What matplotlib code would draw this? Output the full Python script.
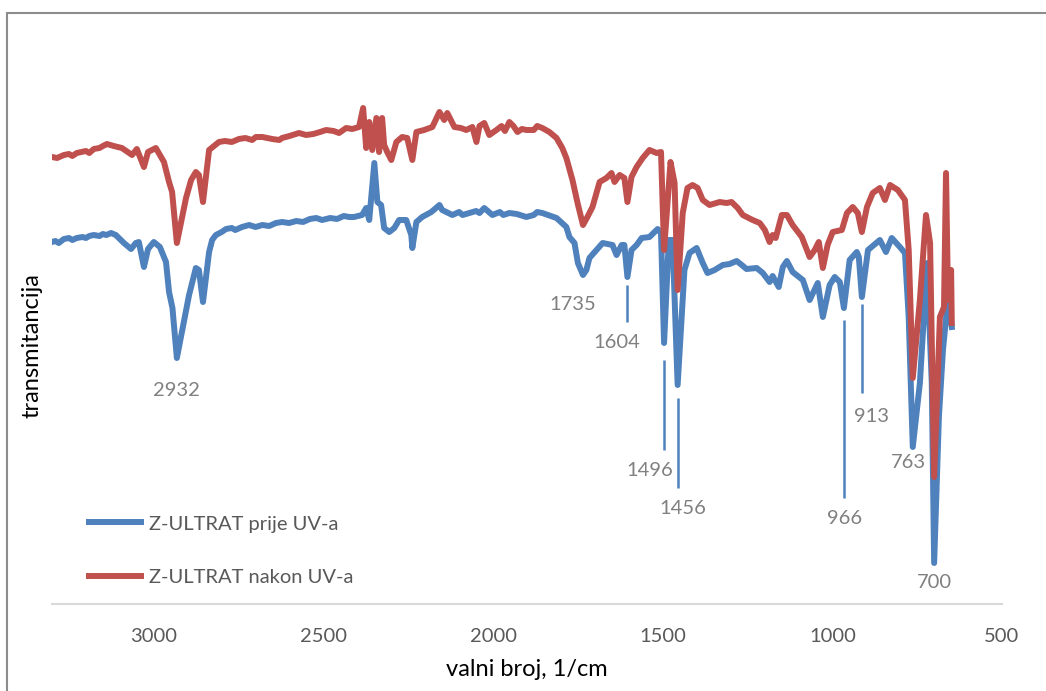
import matplotlib
matplotlib.use('Agg')
import matplotlib.pyplot as plt
from matplotlib.patches import Rectangle

plt.rcParams['font.family'] = ['Lato', 'DejaVu Sans']

# FTIR spektri: valni broj (1/cm) i transmitancija (rel. jedinice)
wn_prije = [3300, 3290, 3280, 3265, 3250, 3240, 3227, 3210, 3200, 3190, 3177, 3160, 3150, 3140,
            3126, 3112, 3088, 3067, 3053, 3044, 3029, 3017, 3000, 2982, 2964, 2955, 2945, 2932,
            2915, 2896, 2876, 2867, 2855, 2837, 2828, 2817, 2800, 2787, 2770, 2760, 2740, 2719,
            2700, 2680, 2660, 2640, 2622, 2601, 2580, 2560, 2540, 2521, 2504, 2480, 2460, 2440,
            2424, 2410, 2386, 2374, 2365, 2350, 2341, 2330, 2321, 2306, 2291, 2277, 2256, 2241,
            2238, 2226, 2209, 2182, 2158, 2150, 2120, 2100, 2090, 2070, 2050, 2040, 2026, 2002,
            1980, 1970, 1952, 1930, 1902, 1880, 1870, 1855, 1813, 1784, 1775, 1760, 1750, 1735,
            1725, 1716, 1695, 1677, 1648, 1636, 1621, 1613, 1604, 1592, 1577, 1562, 1539,
            1515, 1505, 1496, 1482, 1471, 1456, 1436, 1421, 1400, 1382, 1368, 1347, 1323,
            1303, 1282, 1267, 1253, 1223, 1205, 1185, 1176, 1158, 1146, 1134, 1117, 1087,
            1067, 1043, 1028, 1008, 993, 978, 966, 949, 928, 922, 913, 895, 860, 842, 825,
            801, 786, 775, 763, 742, 721, 707, 700, 686, 674, 659, 648]
t_prije = [362, 363, 361, 365, 366, 364, 366, 367, 366, 368, 369, 368, 370, 369,
           371, 369, 361, 355, 361, 362, 337, 355, 362, 357, 342, 312, 296, 246,
           276, 309, 336, 334, 302, 352, 364, 369, 372, 375, 376, 374, 377, 379,
           377, 379, 378, 381, 382, 381, 383, 382, 385, 386, 384, 386, 385, 388,
           387, 387, 389, 396, 384, 441, 402, 399, 376, 372, 376, 384, 384, 369,
           356, 382, 387, 392, 399, 394, 389, 392, 389, 391, 393, 391, 396, 389,
           392, 389, 391, 390, 387, 389, 392, 391, 386, 377, 367, 361, 341, 329,
           334, 346, 354, 361, 359, 349, 359, 359, 327, 354, 359, 366, 367,
           375, 371, 261, 364, 364, 219, 334, 351, 356, 341, 331, 334, 339,
           340, 343, 339, 335, 336, 331, 322, 328, 317, 337, 343, 332, 324,
           304, 321, 287, 319, 327, 322, 296, 344, 352, 347, 307, 354, 364, 352, 366,
           357, 351, 287, 157, 221, 341, 221, 41, 187, 254, 307, 277]

wn_nakon = [3300, 3285, 3265, 3250, 3240, 3227, 3200, 3190, 3177, 3160, 3150, 3138, 3118,
            3094, 3064, 3050, 3029, 3017, 2994, 2970, 2955, 2946, 2932, 2905, 2890, 2876,
            2867, 2855, 2837, 2808, 2790, 2770, 2749, 2730, 2710, 2699, 2680, 2651, 2630,
            2622, 2600, 2572, 2551, 2530, 2510, 2492, 2470, 2454, 2433, 2415, 2395, 2383,
            2374, 2365, 2356, 2344, 2336, 2327, 2321, 2312, 2300, 2285, 2268, 2253, 2238,
            2226, 2203, 2179, 2158, 2144, 2135, 2114, 2095, 2079, 2061, 2049, 2040, 2026,
            2011, 1990, 1975, 1965, 1952, 1940, 1928, 1915, 1902, 1880, 1870, 1855, 1834,
            1813, 1796, 1784, 1766, 1751, 1735, 1722, 1707, 1686, 1666, 1651, 1642, 1627,
            1613, 1604, 1592, 1577, 1559, 1539, 1518, 1505, 1496, 1477, 1465, 1456, 1441,
            1427, 1412, 1397, 1382, 1362, 1332, 1312, 1297, 1279, 1264, 1235, 1214, 1199,
            1185, 1176, 1167, 1149, 1134, 1117, 1090, 1075, 1067, 1052, 1040, 1028, 1014,
            999, 972, 957, 940, 925, 913, 898, 881, 860, 845, 830, 807, 786, 775, 763,
            742, 724, 712, 700, 683, 671, 665, 659, 650, 648]
t_nakon = [447, 446, 449, 450, 448, 451, 453, 451, 455, 456, 458, 460, 458,
           456, 449, 455, 437, 452, 456, 442, 422, 412, 361, 406, 424, 432,
           429, 402, 454, 462, 463, 462, 465, 466, 464, 467, 467, 465, 464,
           466, 468, 471, 469, 470, 472, 474, 473, 471, 476, 475, 477, 496,
           456, 482, 454, 486, 452, 486, 459, 452, 444, 462, 467, 466, 444,
           472, 474, 477, 492, 484, 491, 477, 476, 474, 477, 462, 478, 481,
           469, 474, 478, 473, 482, 478, 472, 475, 474, 474, 478, 476, 472,
           466, 456, 446, 424, 401, 379, 387, 397, 422, 426, 431, 422, 429,
           426, 402, 427, 437, 446, 454, 451, 452, 354, 442, 421, 314, 391,
           416, 419, 416, 404, 399, 402, 401, 402, 396, 389, 384, 381, 374,
           362, 369, 366, 389, 389, 379, 367, 354, 347, 354, 362, 336, 359,
           372, 374, 391, 397, 391, 372, 397, 411, 416, 404, 419, 414, 404, 354, 226,
           304, 389, 361, 127, 287, 297, 431, 304, 334, 281]

# oznake vrpci: vrijednost, pomak teksta (dx, y) i crtica (y_od, y_do) ili None
vrpce = [2932, 1735, 1604, 1496, 1456, 966, 913, 763, 700]
tekst_pomak = [(0, 214), (31, 300), (32, 261), (43, 134), (-15, 95), (-3, 86), (-29, 187), (14, 141), (-2, 21)]
crtice = [None, None, (319, 282), (244, 154), (206, 116), (284, 106), (300, 211), None, None]

plava = '#4F81BD'
crvena = '#C0504D'
siva_tekst = '#595959'

fig = plt.figure(figsize=(10.46, 6.91), dpi=100)
ax = fig.add_axes([52 / 1046, 87 / 691, 950 / 1046, 574 / 691])

ax.plot(wn_prije, t_prije, color=plava, lw=4.3, solid_joinstyle='round', label='Z-ULTRAT prije UV-a')
ax.plot(wn_nakon, t_nakon, color=crvena, lw=4.3, solid_joinstyle='round', label='Z-ULTRAT nakon UV-a')

for v, (dx, ty), c in zip(vrpce, tekst_pomak, crtice):
    ax.text(v + dx, ty, str(v), ha='center', va='center', fontsize=14.5, color='#808080')
    if c is not None:
        ax.vlines(v, c[1], c[0], color=plava, lw=1.8)

ax.set_xlim(3300, 500)
ax.set_ylim(0, 574)
ax.set_xticks([3000, 2500, 2000, 1500, 1000, 500])
ax.set_yticks([])
ax.tick_params(axis='x', length=0, pad=17, labelsize=14.5, labelcolor=siva_tekst)
for s in ['top', 'right', 'left']:
    ax.spines[s].set_visible(False)
ax.spines['bottom'].set_color('#D9D9D9')
ax.spines['bottom'].set_linewidth(1.5)

ax.set_xlabel('valni broj, 1/cm', fontsize=17, color='black', labelpad=10)
ax.set_ylabel('transmitancija', fontsize=17, color='black')
ax.yaxis.set_label_coords(-0.0105, 0.451)

leg = ax.legend(loc='lower left', bbox_to_anchor=(0.02, 0.0), frameon=False, fontsize=14.5,
                handlelength=2.6, handletextpad=0.35, labelspacing=1.8)
for t in leg.get_texts():
    t.set_color(siva_tekst)

# okvir grafikona
fig.add_artist(Rectangle((7 / 1046, -0.1), 1.2, (691 - 13) / 691 + 0.1, transform=fig.transFigure,
                         fill=False, edgecolor='#8C8C8C', lw=1.5))

fig.savefig('out.png', dpi=100)
